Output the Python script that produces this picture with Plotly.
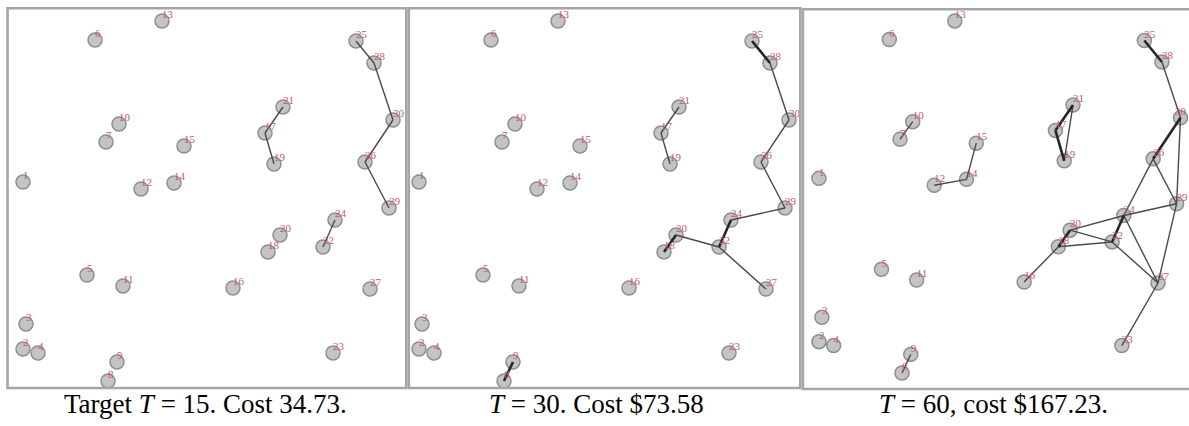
import plotly.graph_objects as go

W, H = 1189, 426

# ---- data (node layout, pixel-like units, y downward) ----
node_ids = list(range(1, 31))
node_x = [23, 23, 26, 38, 87, 95, 106, 108, 117, 119, 123, 141, 162, 174, 184,
          233, 265, 268, 274, 280, 283, 323, 333, 335, 356, 365, 370, 374, 389, 393]
node_y = [182, 349, 324, 353, 275, 40, 142, 381, 362, 124, 286, 189, 21, 183, 146,
          288, 133, 252, 164, 235, 107, 247, 353, 220, 41, 162, 289, 63, 208, 120]

# edges per panel: (from, to, weight) weight 1 = thin, 2 = thick
edges_t15 = [(25, 28, 1), (28, 30, 1), (30, 26, 1), (26, 29, 1),
             (21, 17, 1), (17, 19, 1), (24, 22, 1)]
edges_t30 = [(25, 28, 2), (28, 30, 1), (30, 26, 1), (26, 29, 1), (29, 24, 1),
             (24, 22, 2), (22, 20, 1), (20, 18, 2), (22, 27, 1),
             (21, 17, 1), (17, 19, 1), (9, 8, 2)]
edges_t60 = [(25, 28, 2), (28, 30, 1), (30, 26, 2), (30, 29, 1), (26, 24, 1),
             (26, 29, 1), (24, 29, 1), (24, 20, 1), (24, 22, 2), (24, 27, 1),
             (20, 18, 2), (20, 22, 1), (18, 22, 1), (22, 27, 1), (29, 27, 1),
             (27, 23, 1), (18, 16, 1), (21, 17, 2), (17, 19, 2), (21, 19, 1),
             (12, 14, 1), (14, 15, 1), (10, 7, 1), (9, 8, 1)]

captions = ["Target <i>T</i> = 15. Cost 34.73.",
            "<i>T</i> = 30. Cost $73.58",
            "<i>T</i> = 60, cost $167.23."]

# ---- layout of panels (pixel boxes and data windows) ----
panels = [
    dict(px=(7, 407), py=(8, 388), xr=(7, 407), yr=(388, 8), edges=edges_t15, cap_x=205),
    dict(px=(410, 800), py=(8, 388), xr=(14, 404), yr=(388, 8), edges=edges_t30, cap_x=596),
    dict(px=(804, 1189), py=(9, 389), xr=(7.7, 401.7), yr=(397.4, 8.8), edges=edges_t60, cap_x=993),
]

pos = {n: (x, y) for n, x, y in zip(node_ids, node_x, node_y)}

fig = go.Figure()
layout_axes = {}
for i, p in enumerate(panels, start=1):
    xa = "x" if i == 1 else f"x{i}"
    ya = "y" if i == 1 else f"y{i}"
    # nodes
    fig.add_trace(go.Scatter(
        x=node_x, y=node_y, mode="markers", xaxis=xa, yaxis=ya,
        marker=dict(size=14, color="#c4c4c4", line=dict(color="#8e8e8e", width=1.5)),
        hoverinfo="skip", showlegend=False))
    # edges
    for wgt, width, color in [(1, 1.4, "#4a4a4a"), (2, 2.6, "#262626")]:
        ex, ey = [], []
        for a, b, w in p["edges"]:
            if w != wgt:
                continue
            ex += [pos[a][0], pos[b][0], None]
            ey += [pos[a][1], pos[b][1], None]
        if ex:
            fig.add_trace(go.Scatter(
                x=ex, y=ey, mode="lines", xaxis=xa, yaxis=ya,
                line=dict(color=color, width=width),
                hoverinfo="skip", showlegend=False))
    # labels (keep labels inside the visible page at the right edge of the last panel)
    tpos = ["top right"] * len(node_ids)
    if i == 3:
        tpos[node_ids.index(30)] = "top center"
    fig.add_trace(go.Scatter(
        x=node_x, y=node_y, mode="text", xaxis=xa, yaxis=ya,
        text=[str(n) for n in node_ids], textposition=tpos,
        textfont=dict(family="Liberation Serif", size=11, color="#c85a64"),
        hoverinfo="skip", showlegend=False))
    layout_axes[("xaxis" if i == 1 else f"xaxis{i}")] = dict(
        domain=[p["px"][0] / W, p["px"][1] / W], range=list(p["xr"]),
        visible=False, anchor=ya, fixedrange=True)
    layout_axes[("yaxis" if i == 1 else f"yaxis{i}")] = dict(
        domain=[1 - p["py"][1] / H, 1 - p["py"][0] / H], range=list(p["yr"]),
        visible=False, anchor=xa, fixedrange=True)

fig.update_layout(**layout_axes)

# panel frames
frames = [(7.5, 406.3, 8.2, 388), (408.8, 800.3, 8.2, 388), (802.9, 1195, 9.2, 389)]
for x0, x1, y0, y1 in frames:
    fig.add_shape(type="rect", xref="paper", yref="paper",
                  x0=x0 / W, x1=x1 / W, y0=1 - y1 / H, y1=1 - y0 / H,
                  line=dict(color="#a6a6a6", width=2.6), fillcolor="rgba(0,0,0,0)")

for cap, p in zip(captions, panels):
    fig.add_annotation(text=cap, xref="paper", yref="paper", x=p["cap_x"] / W,
                       y=1 - 404 / H, xanchor="center", yanchor="middle", showarrow=False,
                       font=dict(family="Liberation Serif", size=27, color="black"))

fig.update_layout(width=W, height=H, margin=dict(l=0, r=0, t=0, b=0),
                  paper_bgcolor="white", plot_bgcolor="white", showlegend=False)

fig.write_html("out.html", config={"displayModeBar": False},
               post_script="document.body.style.margin='0';document.body.style.overflow='hidden';")
